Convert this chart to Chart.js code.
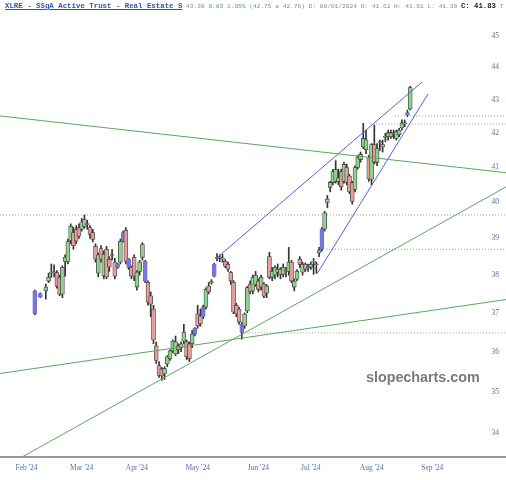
<!DOCTYPE html>
<html><head><meta charset="utf-8">
<script src="https://cdn.jsdelivr.net/npm/chart.js@4.4.1/dist/chart.umd.min.js"></script>
<style>
html,body{margin:0;padding:0;background:#fff;}
#wrap{position:relative;width:506px;height:480px;overflow:hidden;}
#c{position:absolute;left:0;top:0;}
#hdr{position:absolute;left:5px;top:1px;white-space:nowrap;font-family:"Liberation Mono",monospace;font-size:6.2px;line-height:10px;color:#8a8a8a;}
#hdr .t{font-weight:bold;font-size:7.4px;color:#2f56a8;text-decoration:underline;}
#hdr .g{color:#5aa55a;}
#hdr .c{font-weight:bold;font-size:7.3px;color:#222;}
#wm{position:absolute;left:366px;top:370px;font-family:"Liberation Sans",Arial,sans-serif;font-weight:bold;font-size:14.3px;line-height:14.3px;color:#7a7a7a;white-space:nowrap;}
</style></head>
<body>
<div id="wrap">
<canvas id="c" width="506" height="480"></canvas>
<div id="hdr"><span class="t">XLRE - SSgA Active Trust - Real Estate S</span> 43.38 <span class="g">0.83 1.95%</span> (42.75 a 42.76) D: 08/01/2024 O: 41.62 H: 41.91 L: 41.39 <span class="c">C: 41.83</span> T</div>
<div id="wm">slopecharts.com</div>
</div>
<script>
// trading-day index (0 = Feb 1 2024)
const days = [3,5,7,8,9,10,11,12,13,14,15,16,17,18,19,20,21,22,23,24,25,26,27,28,29,30,31,32,33,34,35,36,37,38,39,40,41,42,43,44,45,46,47,48,49,50,51,52,53,54,55,56,57,58,59,60,61,62,63,64,65,66,67,68,69,70,71,72,73,74,75,76,77,78,79,80,81,82,83,84,85,86,87,88,89,90,91,92,93,94,95,96,97,98,99,100,101,102,103,104,105,106,107,108,109,110,111,112,113,114,115,116,117,118,119,120,121,122,123,124,125,126,127,128,129,130,131,132,133,134,135,136,137,138,139];
const opens = [37.58,37.42,37.58,37.84,38.05,38.08,38.07,37.94,37.49,38.37,38.37,38.94,39.16,39.25,39.30,39.25,39.33,39.40,39.30,39.16,38.78,38.05,38.72,37.98,38.70,38.43,38.55,38.35,38.29,38.35,38.92,39.22,38.43,38.21,38.48,37.68,38.10,38.48,38.37,37.81,37.45,37.10,36.15,35.65,35.57,35.44,35.69,35.82,36.02,35.94,36.05,36.20,36.27,36.25,36.20,36.20,36.45,36.97,36.92,36.90,37.15,37.71,37.80,37.97,38.45,38.48,38.46,38.37,38.29,38.07,37.81,37.20,37.10,36.71,36.66,37.05,37.76,37.57,37.74,37.84,37.68,37.76,37.52,38.50,37.94,38.00,38.08,38.16,38.02,38.10,38.10,38.35,37.68,37.89,38.43,38.08,38.29,38.20,38.21,38.35,38.30,38.60,38.70,39.25,40.00,40.43,40.57,40.60,40.60,40.88,40.60,41.00,40.75,40.57,40.37,41.00,41.23,41.60,41.52,41.28,40.66,41.67,41.15,41.75,41.60,41.88,41.90,42.02,41.98,41.85,41.96,42.16,42.28,42.62,42.73];
const highs = [37.60,37.53,37.76,38.05,38.30,38.28,38.12,38.00,38.25,38.55,38.98,39.40,39.30,39.35,39.40,39.55,39.65,39.50,39.35,39.25,38.85,38.60,38.80,38.65,38.78,38.50,38.70,38.45,38.32,38.98,39.20,39.30,38.45,38.25,38.55,38.12,38.40,38.88,38.40,37.85,37.55,37.20,36.25,35.75,35.60,35.62,35.90,36.05,36.30,36.40,36.20,36.25,36.70,36.30,36.25,36.55,36.62,37.20,37.10,37.20,37.66,37.80,37.88,38.32,38.58,38.55,38.56,38.42,38.35,38.10,37.85,37.25,37.15,36.75,37.00,37.70,37.85,38.00,38.10,37.90,38.00,37.80,37.75,38.62,38.20,38.25,38.30,38.20,38.30,38.20,38.75,38.40,37.90,38.15,38.50,38.35,38.33,38.30,38.35,38.45,38.35,38.75,39.30,39.75,40.20,40.60,40.95,41.20,40.95,40.95,41.15,41.10,40.80,40.60,41.05,41.35,41.45,42.30,42.10,41.35,41.70,42.25,41.70,41.80,41.80,42.00,42.10,42.10,42.10,42.10,42.15,42.40,42.40,42.70,43.42];
const lows = [36.95,37.40,37.36,37.80,37.94,37.95,37.65,37.45,37.40,37.97,38.30,38.85,38.70,38.85,39.00,39.20,39.28,39.25,39.00,38.90,38.35,37.95,38.35,37.90,37.90,38.10,38.40,37.90,38.18,38.30,38.90,38.30,38.15,37.90,37.85,37.60,38.00,38.40,37.80,37.20,36.90,36.20,35.70,35.35,35.28,35.30,35.62,35.78,35.98,35.90,35.95,36.00,36.20,35.80,35.75,36.10,36.40,36.60,36.65,36.85,37.10,37.50,37.76,37.95,38.38,38.36,38.35,38.20,38.10,37.75,36.98,36.90,36.70,36.32,36.60,37.00,37.50,37.50,37.70,37.55,37.60,37.40,37.40,37.90,37.85,37.90,37.95,37.90,37.95,37.95,38.00,37.80,37.58,37.85,38.20,38.00,38.10,38.10,38.15,38.02,38.05,38.50,38.65,39.20,39.85,40.30,40.50,40.55,40.50,40.35,40.55,40.50,40.25,39.95,40.30,40.95,41.15,41.55,41.40,40.60,40.50,41.10,41.05,41.50,41.45,41.75,41.80,41.85,41.85,41.80,41.90,42.10,42.20,42.50,42.70];
const closes = [36.97,37.51,37.68,37.94,38.08,38.06,37.70,37.49,38.21,38.48,38.91,39.33,38.80,38.92,39.06,39.46,39.52,39.38,39.11,38.97,38.43,38.55,38.43,38.56,37.95,38.22,38.53,37.97,38.21,38.92,39.16,38.37,38.21,37.97,37.97,38.08,38.35,38.83,37.84,37.28,37.23,36.30,35.78,35.40,35.39,35.57,35.87,36.02,36.27,36.25,36.15,36.10,36.50,35.87,35.82,36.45,36.60,36.66,36.71,37.15,37.62,37.55,37.82,38.29,38.48,38.45,38.44,38.24,38.16,37.84,37.02,36.97,36.76,36.50,36.97,37.67,37.55,37.94,38.00,37.62,37.94,37.44,37.71,37.94,38.10,38.21,38.16,38.02,38.21,38.12,38.35,37.84,37.84,38.10,38.29,38.29,38.16,38.22,38.29,38.37,38.28,38.68,39.25,39.71,40.10,40.57,40.88,40.94,40.70,40.45,41.09,40.57,40.30,40.03,41.00,41.30,41.38,41.85,41.81,40.66,41.67,41.15,41.55,41.73,41.67,41.90,42.02,41.90,42.00,42.05,42.10,42.31,42.30,42.55,43.38];
const blueDays = [3,5,33,35,37,43,61,64,68,78,107,138];

const monthTicks = [0,20,40,62,84,103,125,147];
const monthLabels = ["Feb '24","Mar '24","Apr '24","May '24","Jun '24","Jul '24","Aug '24","Sep '24"];
const priceTicks = [34,35,36,37,38,39,40,41,42,43,44,45];

// horizontal dotted levels: start day, price
const levelStart = [133.5,124.5,-9.6,106.3,77.4];
const levelPrice = [42.52,42.28,39.65,38.70,36.48];

// trend lines: [startDay, startPrice, endDay, endPrice]
const greenLines = [
  [-9.6,42.52,173.7,40.85],
  [-1.6,33.42,173.7,40.44],
  [-9.6,35.45,173.7,37.35]
];
const blueLines = [
  [69.0,38.47,143.3,43.55],
  [105.3,38.04,145.5,43.19]
];

const X_MIN = -9.6, X_MAX = 173.7;

const datasets = [];
levelStart.forEach((s,k)=>{
  datasets.push({type:'line', data:[{x:s,y:levelPrice[k]},{x:X_MAX,y:levelPrice[k]}],
    borderColor:'#9a9a9a', borderWidth:1, borderDash:[1,2], pointRadius:0, order:6});
});
datasets.push({type:'bar', grouped:false, order:3, barThickness:1,
  data: days.map((d,k)=>({x:d,y:[lows[k],highs[k]]})),
  backgroundColor:'#333', borderWidth:0});
function bodyColor(k){
  if (blueDays.includes(days[k])) return '#7878dc';
  return closes[k] >= opens[k] ? '#8ed38e' : '#e59d9d';
}
datasets.push({type:'bar', grouped:false, order:2, barThickness:4, minBarLength:1,
  data: days.map((d,k)=>({x:d,y:[opens[k],closes[k]]})),
  backgroundColor: c => bodyColor(c.dataIndex),
  borderColor: c => blueDays.includes(days[c.dataIndex]) ? '#6a6ad0' : '#444',
  borderWidth:0.8, borderSkipped:false});
greenLines.forEach(l=>{
  datasets.push({type:'line', data:[{x:l[0],y:l[1]},{x:l[2],y:l[3]}],
    borderColor:'#5aa85a', borderWidth:1, pointRadius:0, order:0});
});
blueLines.forEach(l=>{
  datasets.push({type:'line', data:[{x:l[0],y:l[1]},{x:l[2],y:l[3]}],
    borderColor:'#5c5ce0', borderWidth:1, pointRadius:0, order:0});
});

new Chart(document.getElementById('c'), {
  type:'bar',
  data:{datasets},
  options:{
    responsive:false, animation:false,
    layout:{padding:{top:20,bottom:0,left:0,right:0}},
    plugins:{legend:{display:false}, tooltip:{enabled:false}},
    scales:{
      x:{type:'linear', min:X_MIN, max:X_MAX, offset:false,
        grid:{display:false, drawTicks:false},
        border:{display:true, color:'#999', width:2},
        afterBuildTicks: s => { s.ticks = monthTicks.map(v=>({value:v})); },
        ticks:{autoSkip:false, maxRotation:0, padding:7, color:'#4f72a8',
          font:{family:'Liberation Serif', size:7.5},
          callback: v => { const i = monthTicks.indexOf(v); return i>=0 ? monthLabels[i] : ''; }}
      },
      y:{type:'logarithmic', position:'right', min:33.42, max:45.5,
        grid:{display:false, drawTicks:false},
        border:{display:false},
        afterBuildTicks: s => { s.ticks = priceTicks.map(v=>({value:v})); },
        afterFit: s => { s.width = 0; },
        ticks:{mirror:true, padding:-7, color:'#4f72a8',
          font:{family:'Liberation Serif', size:7.5},
          callback: v => String(v)}
      }
    }
  }
});
</script>
</body></html>
